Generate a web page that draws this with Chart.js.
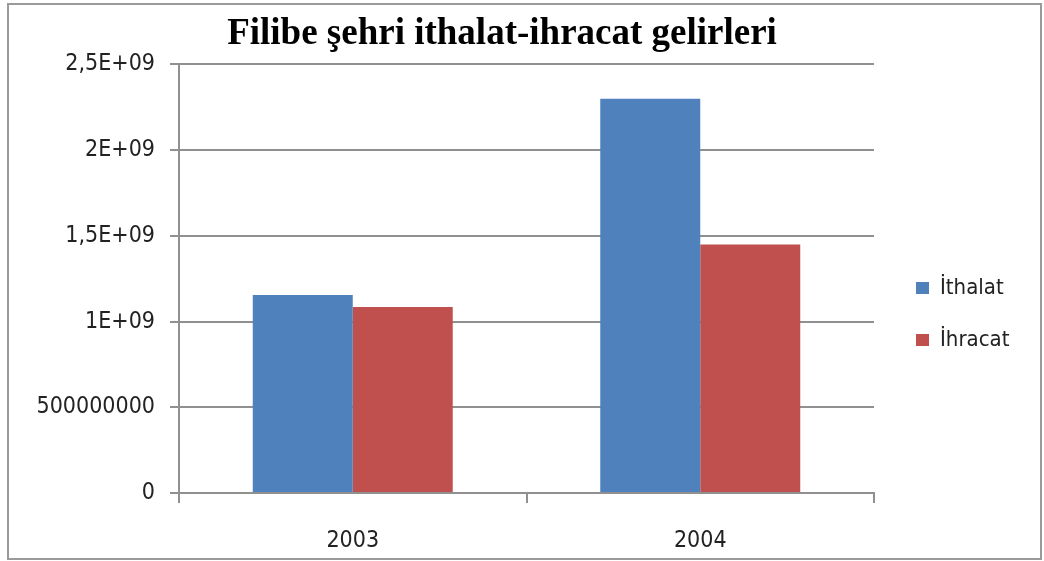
<!DOCTYPE html>
<html>
<head>
<meta charset="utf-8">
<script src="https://cdn.jsdelivr.net/npm/chart.js@4"></script>
<style>
  html, body { margin: 0; padding: 0; background: #fff; }
  #frame { position: absolute; left: 7px; top: 3px; width: 1031px; height: 553px; border: 2px solid #9a9a9a; background: #fff; }
  #chart { position: absolute; left: 0; top: 0; }
</style>
</head>
<body>
<div id="frame"></div>
<canvas id="chart" width="1044" height="561"></canvas>
<script>
const categories = ['2003', '2004'];
const ithalat = [1.155e9, 2.30e9];
const ihracat = [1.085e9, 1.45e9];
const yTickLabels = ['0', '500000000', '1E+09', '1,5E+09', '2E+09', '2,5E+09'];

const blue = '#4f81bd';
const red = '#c0504d';
const gridGray = '#909090';
const fam = "'DejaVu Sans Condensed', 'DejaVu Sans', sans-serif";
const tickFont = { family: fam, size: 23 };
const legendFont = { family: fam, size: 22 };

// nudge the legend over to where Excel put it
const legendPlace = {
  id: 'legendPlace',
  afterLayout(chart) {
    const lg = chart.legend;
    lg.left += 12; lg.right += 12;
    lg.top += 33.5; lg.bottom += 33.5;
  }
};

new Chart(document.getElementById('chart'), {
  type: 'bar',
  data: {
    labels: categories,
    datasets: [
      { label: 'İthalat', data: ithalat, backgroundColor: blue },
      { label: 'İhracat', data: ihracat, backgroundColor: red }
    ]
  },
  options: {
    responsive: false,
    animation: false,
    categoryPercentage: 0.5755,
    barPercentage: 1,
    layout: { padding: { left: 0, right: 40, top: 0, bottom: 0 } },
    plugins: {
      title: {
        display: true,
        text: 'Filibe şehri ithalat-ihracat gelirleri',
        color: '#000',
        font: { family: "'Liberation Serif', serif", size: 37, weight: 'bold', lineHeight: 1.2 },
        padding: { top: 12, bottom: 8 }
      },
      legend: {
        position: 'right',
        maxWidth: 130,
        labels: {
          color: '#222',
          font: legendFont,
          boxWidth: 13,
          boxHeight: 12,
          padding: 30
        }
      },
      tooltip: { enabled: false }
    },
    scales: {
      x: {
        afterFit: s => { s.height = 68; },
        grid: { offset: true, drawOnChartArea: false, drawTicks: true, tickLength: 10, color: gridGray, lineWidth: 2 },
        border: { color: gridGray, width: 2 },
        ticks: { color: '#222', font: tickFont, padding: 24 }
      },
      y: {
        min: 0,
        max: 2.5e9,
        afterFit: s => { s.width = 179; },
        grid: { color: gridGray, lineWidth: 2, tickLength: 9 },
        border: { color: gridGray, width: 2 },
        ticks: {
          stepSize: 5e8,
          color: '#222',
          font: tickFont,
          padding: 15,
          callback: (v, i) => yTickLabels[i]
        }
      }
    }
  },
  plugins: [legendPlace]
});
</script>
</body>
</html>
